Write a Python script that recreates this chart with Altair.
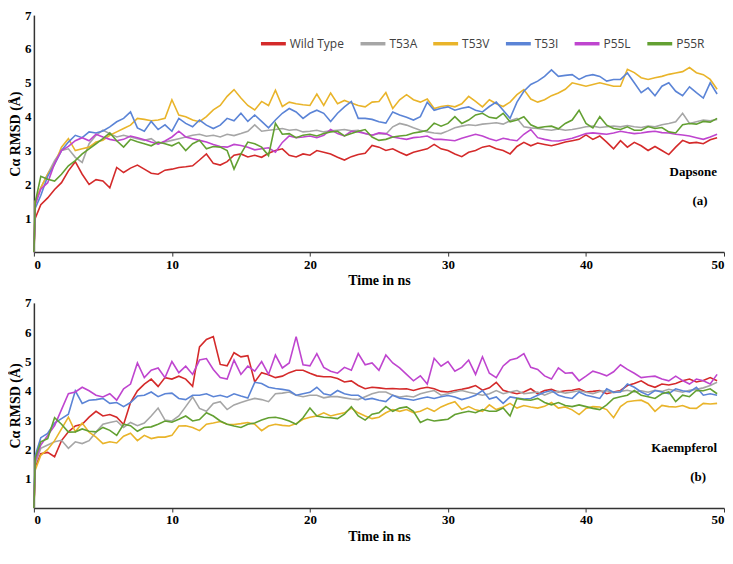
import altair as alt
import pandas as pd

# time grid (ns): 0, 0.1, then every 0.5 ns up to 49.5
time_ns = [0.0, 0.1] + [round(0.5 * i, 1) for i in range(1, 100)]

series_names = ["Wild Type", "T53A", "T53V", "T53I", "P55L", "P55R"]
series_colors = ["#d42a2a", "#a6a6a6", "#e9b42a", "#5b84d6", "#bf45cf", "#63a032"]

# ---------------- (a) Dapsone ----------------
dap_wt = [0, 1.0, 1.4, 1.6, 1.85, 2.05, 2.4, 2.67, 2.3, 2.0, 2.14,
          2.1, 1.9, 2.5, 2.35, 2.48, 2.57, 2.45, 2.33, 2.3, 2.42,
          2.45, 2.5, 2.52, 2.55, 2.72, 2.9, 2.62, 2.57, 2.67, 2.86,
          2.9, 2.81, 2.86, 2.8, 2.92, 3.0, 3.05, 2.86, 2.81, 2.9,
          2.86, 3.0, 2.95, 2.9, 2.8, 2.72, 2.82, 2.88, 2.92, 3.15,
          3.1, 3.0, 3.05, 2.95, 2.86, 2.95, 3.0, 3.05, 3.18, 3.05,
          3.0, 2.9, 2.82, 2.95, 3.0, 3.1, 3.14, 3.05, 3.0, 2.9,
          3.12, 3.24, 3.14, 3.22, 3.18, 3.14, 3.19, 3.25, 3.29, 3.33,
          3.46, 3.33, 3.43, 3.25, 3.05, 3.29, 3.1, 3.24, 3.14, 3.0,
          3.12, 3.0, 2.88, 3.1, 3.3, 3.22, 3.24, 3.2, 3.32, 3.38]
dap_t53a = [0, 1.5, 1.9, 2.3, 2.7, 3.0, 3.05, 2.8, 2.65, 3.2, 3.45,
            3.6, 3.5, 3.4, 3.45, 3.4, 3.35, 3.3, 3.35, 3.2, 3.25,
            3.3, 3.35, 3.4, 3.45, 3.48, 3.42, 3.45, 3.4, 3.48, 3.44,
            3.5, 3.57, 3.76, 3.57, 3.6, 3.62, 3.65, 3.6, 3.62, 3.55,
            3.57, 3.6, 3.55, 3.58, 3.6, 3.62, 3.58, 3.6, 3.5, 3.45,
            3.5, 3.48, 3.7, 3.8, 3.75, 3.67, 3.6, 3.55, 3.52, 3.5,
            3.58, 3.67, 3.72, 3.76, 3.74, 3.78, 3.8, 3.82, 3.78, 3.88,
            3.95, 3.7, 3.67, 3.65, 3.62, 3.6, 3.64, 3.6, 3.62, 3.66,
            3.7, 3.72, 3.68, 3.7, 3.72, 3.7, 3.74, 3.7, 3.68, 3.72,
            3.7, 3.76, 3.8, 3.85, 4.1, 3.8, 3.85, 3.9, 3.88, 3.92]
dap_t53v = [0, 1.5, 1.9, 2.3, 2.6, 3.1, 3.35, 3.0, 3.05, 3.1, 3.25,
            3.3, 3.45, 3.55, 3.65, 3.75, 3.95, 3.92, 3.88, 3.9, 3.95,
            4.5, 4.05, 4.0, 3.9, 3.85, 4.0, 4.2, 4.33, 4.6, 4.8,
            4.55, 4.33, 4.2, 4.45, 4.33, 4.78, 4.3, 4.43, 4.38, 4.35,
            4.33, 4.67, 4.33, 4.7, 4.38, 4.48, 4.4, 4.33, 4.29, 4.43,
            4.45, 4.71, 4.24, 4.5, 4.65, 4.5, 4.43, 4.52, 4.24, 4.3,
            4.33, 4.29, 4.38, 4.6, 4.45, 4.29, 4.5, 4.38, 4.3, 4.43,
            4.65, 4.8, 4.52, 4.43, 4.5, 4.62, 4.7, 4.81, 5.0, 4.95,
            4.9, 4.95, 5.0, 4.95, 4.9, 4.9, 5.4, 5.3, 5.15, 5.1,
            5.15, 5.19, 5.25, 5.29, 5.33, 5.45, 5.3, 5.24, 5.1, 4.81]
dap_t53i = [0, 1.3, 1.67, 2.24, 2.6, 3.0, 3.25, 3.45, 3.38, 3.55, 3.52,
            3.58, 3.7, 3.85, 3.95, 4.14, 3.67, 3.57, 3.86, 3.62, 3.76,
            3.57, 3.95, 3.8, 3.7, 3.9, 3.75, 3.65, 3.75, 3.95, 3.88,
            4.1, 3.86, 4.05, 3.86, 3.67, 3.9, 4.1, 4.24, 4.14, 3.95,
            4.1, 4.19, 4.1, 3.86, 4.1, 4.29, 4.45, 3.95, 3.95, 3.92,
            3.85, 3.81, 4.14, 4.05, 3.98, 3.9, 4.0, 4.43, 4.19, 4.25,
            4.29, 4.19, 4.25, 4.29, 4.19, 4.14, 4.3, 4.43, 4.19, 3.95,
            4.43, 4.75, 4.95, 5.05, 5.19, 5.38, 5.19, 5.22, 5.24, 5.1,
            5.2, 5.24, 5.19, 5.05, 5.1, 5.1, 5.29, 5.0, 4.71, 4.85,
            4.62, 4.9, 5.0, 4.75, 4.62, 4.88, 4.71, 4.55, 5.0, 4.67]
dap_p55l = [0, 1.4, 1.86, 2.05, 2.62, 3.0, 3.12, 3.29, 3.38, 3.29, 3.48,
            3.4, 3.33, 3.29, 3.33, 3.43, 3.38, 3.32, 3.25, 3.19, 3.28,
            3.4, 3.57, 3.4, 3.35, 3.3, 3.25, 3.18, 3.12, 3.1, 3.18,
            3.15, 3.1, 3.02, 3.05, 3.08, 2.95, 3.24, 3.43, 3.38, 3.4,
            3.43, 3.38, 3.45, 3.62, 3.5, 3.43, 3.57, 3.55, 3.5, 3.45,
            3.52, 3.5, 3.4, 3.36, 3.33, 3.38, 3.4, 3.43, 3.33, 3.33,
            3.31, 3.29, 3.36, 3.42, 3.48, 3.43, 3.35, 3.29, 3.36, 3.32,
            3.29, 3.48, 3.62, 3.38, 3.33, 3.29, 3.28, 3.32, 3.36, 3.43,
            3.5, 3.52, 3.5, 3.48, 3.52, 3.57, 3.53, 3.5, 3.52, 3.55,
            3.57, 3.53, 3.52, 3.48, 3.46, 3.43, 3.38, 3.33, 3.4, 3.48]
dap_p55r = [0, 1.48, 2.24, 2.15, 2.1, 2.3, 2.55, 2.7, 2.9, 3.05, 3.2,
            3.35, 3.52, 3.29, 3.1, 3.33, 3.26, 3.2, 3.14, 3.25, 3.2,
            3.14, 3.24, 3.0, 3.2, 3.3, 3.05, 3.12, 3.1, 3.0, 2.45,
            2.9, 3.25, 3.2, 3.1, 2.85, 3.8, 3.48, 3.5, 3.38, 3.45,
            3.48, 3.43, 3.5, 3.55, 3.57, 3.43, 3.5, 3.57, 3.62, 3.4,
            3.3, 3.33, 3.4, 3.43, 3.45, 3.52, 3.55, 3.6, 3.81, 3.72,
            3.8, 4.0, 3.8, 3.9, 4.05, 4.1, 3.98, 3.95, 4.1, 3.85,
            3.9, 4.0, 3.76, 3.67, 3.7, 3.72, 3.64, 3.8, 3.9, 4.19,
            3.8, 3.67, 4.0, 3.75, 3.65, 3.62, 3.7, 3.6, 3.6, 3.71,
            3.65, 3.68, 3.55, 3.52, 3.76, 3.8, 3.78, 3.86, 3.84, 3.95]

# ---------------- (b) Kaempferol ----------------
kae_wt = [0, 1.4, 1.85, 1.9, 1.75, 2.3, 2.6, 2.8, 2.86, 3.1, 3.3,
          3.14, 3.19, 3.1, 2.85, 3.6, 4.0, 4.23, 4.4, 4.15, 4.45,
          4.4, 4.5, 4.4, 4.15, 5.5, 5.75, 5.85, 4.9, 4.85, 5.3,
          5.16, 5.2, 4.3, 4.62, 4.55, 4.45, 4.5, 4.62, 4.7, 4.7,
          4.6, 4.51, 4.48, 4.48, 4.42, 4.3, 4.34, 4.18, 4.07, 4.12,
          4.1, 4.07, 4.08, 4.06, 4.07, 4.01, 4.08, 4.12, 4.07, 3.98,
          3.96, 4.01, 4.05, 4.1, 4.18, 4.02, 4.1, 4.29, 4.02, 3.95,
          3.9, 3.96, 4.07, 3.9, 4.01, 4.05, 3.96, 4.0, 4.02, 4.07,
          3.96, 3.98, 4.01, 3.9, 3.96, 4.01, 4.18, 4.25, 4.34, 4.2,
          4.12, 4.23, 4.2, 4.25, 4.34, 4.4, 4.3, 4.35, 4.45, 4.34]
kae_t53a = [0, 1.5, 2.04, 2.15, 2.26, 2.31, 2.04, 2.26, 2.2, 2.3, 2.59,
            2.86, 2.92, 2.97, 2.75, 2.92, 2.81, 2.9, 3.14, 3.41, 3.0,
            2.97, 3.14, 3.46, 3.79, 3.4, 3.3, 3.57, 3.63, 3.36, 3.52,
            3.6, 3.68, 3.74, 3.7, 3.63, 3.9, 3.92, 3.96, 3.85, 3.8,
            3.85, 3.85, 3.76, 3.8, 3.8, 3.76, 3.72, 3.7, 3.8, 3.9,
            3.96, 3.96, 3.85, 3.79, 3.82, 3.79, 3.9, 3.96, 4.01, 3.85,
            3.9, 3.96, 4.01, 3.95, 3.9, 3.85, 3.9, 4.01, 3.9, 3.96,
            4.01, 3.9, 3.93, 3.96, 3.85, 3.95, 3.98, 3.92, 3.96, 4.0,
            3.95, 3.9, 3.98, 4.0, 3.94, 3.98, 4.02, 3.96, 4.0, 3.95,
            4.02, 3.98, 4.05, 4.0, 3.95, 4.02, 4.05, 4.1, 4.18, 4.29]
kae_t53v = [0, 1.3, 1.8, 2.0, 2.3, 2.7, 3.1, 2.6, 2.9, 2.59, 2.42,
            2.2, 2.26, 2.22, 2.45, 2.55, 2.3, 2.48, 2.37, 2.42, 2.42,
            2.48, 2.8, 2.81, 2.75, 2.64, 2.86, 2.9, 2.95, 2.86, 2.85,
            2.88, 2.92, 2.86, 2.64, 2.8, 2.86, 2.82, 2.8, 2.88, 3.03,
            3.1, 3.14, 3.25, 3.14, 3.2, 3.25, 3.41, 3.25, 3.14, 3.05,
            3.1, 3.25, 3.36, 3.3, 3.36, 3.25, 3.3, 3.41, 3.3, 3.45,
            3.55, 3.63, 3.36, 3.46, 3.35, 3.3, 3.52, 3.36, 3.45, 3.57,
            3.41, 3.5, 3.45, 3.41, 3.47, 3.6, 3.41, 3.45, 3.35, 3.19,
            3.4, 3.46, 3.45, 3.36, 3.08, 3.46, 3.63, 3.66, 3.68, 3.57,
            3.3, 3.5, 3.46, 3.45, 3.5, 3.41, 3.4, 3.57, 3.55, 3.57]
kae_t53i = [0, 1.8, 2.4, 2.55, 2.9, 3.05, 3.2, 4.0, 3.57, 3.68, 3.7,
            3.74, 3.57, 3.6, 3.46, 3.6, 3.82, 3.85, 3.96, 3.8, 3.9,
            3.92, 3.74, 3.7, 3.85, 3.85, 3.9, 3.8, 3.85, 3.78, 3.9,
            3.82, 3.75, 4.29, 4.25, 4.12, 4.08, 4.05, 4.01, 3.85, 3.9,
            3.95, 4.12, 3.9, 3.85, 4.01, 3.9, 3.85, 3.85, 3.7, 3.74,
            3.68, 3.63, 3.85, 3.75, 3.72, 3.68, 3.74, 3.79, 3.74, 3.8,
            3.84, 3.79, 3.7, 3.76, 3.85, 4.01, 3.72, 3.79, 3.57, 3.79,
            3.75, 3.72, 3.74, 3.85, 3.95, 4.01, 3.85, 3.78, 3.74, 3.96,
            3.85, 3.8, 3.74, 4.07, 3.95, 3.96, 4.23, 4.12, 3.96, 3.85,
            4.01, 3.96, 3.9, 4.07, 4.0, 3.96, 4.12, 3.85, 3.9, 3.85]
kae_p55l = [0, 1.6, 2.15, 2.48, 2.81, 3.36, 3.9, 3.96, 4.12, 4.0, 3.85,
            3.79, 3.9, 3.68, 4.07, 4.23, 4.95, 4.45, 4.7, 4.78, 4.45,
            5.0, 4.62, 4.84, 4.56, 5.05, 5.1, 4.73, 4.45, 4.4, 5.05,
            4.56, 4.84, 4.67, 5.0, 4.56, 5.22, 4.78, 4.95, 5.85, 4.89,
            4.85, 5.27, 4.8, 4.67, 4.6, 4.8, 4.7, 5.27, 4.89, 4.95,
            4.7, 5.22, 4.95, 4.78, 4.56, 4.34, 4.51, 4.23, 5.11, 4.84,
            5.0, 4.67, 4.8, 5.05, 4.56, 5.16, 4.6, 4.45, 4.85, 5.05,
            5.11, 5.27, 4.8, 4.73, 4.51, 4.4, 4.78, 4.6, 4.62, 4.34,
            4.5, 4.67, 4.6, 4.51, 4.65, 4.89, 4.73, 4.6, 4.45, 4.48,
            4.5, 4.4, 4.34, 4.5, 4.35, 4.23, 4.4, 4.34, 4.23, 4.56]
kae_p55r = [0, 1.7, 2.26, 2.37, 3.08, 2.86, 2.59, 2.6, 2.7, 2.62, 2.6,
            2.75, 2.65, 2.48, 2.86, 2.81, 2.62, 2.75, 2.77, 2.86, 2.97,
            2.93, 3.03, 3.14, 2.97, 3.02, 3.25, 3.14, 2.97, 2.86, 2.8,
            2.75, 2.86, 2.9, 3.0, 3.08, 3.1, 3.05, 2.97, 2.86, 3.08,
            3.41, 3.14, 3.1, 3.08, 3.05, 3.2, 3.46, 3.14, 3.0, 3.2,
            3.25, 3.46, 3.3, 3.41, 3.45, 3.3, 2.92, 3.03, 2.97, 3.0,
            3.03, 3.19, 3.25, 3.3, 3.25, 3.36, 3.3, 3.3, 3.41, 3.14,
            3.74, 3.7, 3.68, 3.74, 3.6, 3.52, 3.6, 3.5, 3.46, 3.52,
            3.46, 3.4, 3.36, 3.52, 3.74, 3.8, 3.85, 4.01, 3.85, 3.8,
            3.74, 3.9, 3.96, 3.63, 3.85, 3.8, 4.01, 4.0, 4.07, 3.9]

x_ticks = [0, 10, 20, 30, 40, 50]
y_ticks = [1, 2, 3, 4, 5, 6, 7]
dap_labels = ["Dapsone", "(a)"]
kae_labels = ["Kaempferol", "(b)"]

SERIF = "Liberation Serif"
PLOT_W = 693


def make_df(value_lists):
    rows = []
    for name, vals in zip(series_names, value_lists):
        for t, v in zip(time_ns, vals):
            rows.append({"t": t, "v": v, "series": name})
    return pd.DataFrame(rows)


def panel(value_lists, height, legend, labels, label_pos):
    df = make_df(value_lists)
    x = alt.X("t:Q", scale=alt.Scale(domain=[0, 50], nice=False),
              axis=alt.Axis(values=x_ticks, title="Time in ns", grid=False,
                            tickSize=4, labelPadding=2, titlePadding=3,
                            labelFlush=True, format="d"))
    y = alt.Y("v:Q", scale=alt.Scale(domain=[0, 7], nice=False),
              axis=alt.Axis(values=y_ticks, title="Cα RMSD (Å)", grid=False,
                            ticks=False, labelPadding=3, titlePadding=2,
                            format="d"))
    color = alt.Color("series:N",
                      scale=alt.Scale(domain=series_names, range=series_colors),
                      legend=legend)
    layers = []
    for name in series_names:
        layers.append(
            alt.Chart(df).transform_filter(alt.datum.series == name)
            .mark_line(strokeWidth=1.6)
            .encode(x=x, y=y, color=color)
        )
    (x1, y1), (x2, y2) = label_pos
    layers.append(
        alt.Chart(pd.DataFrame({"txt": [labels[0]]}))
        .mark_text(align="right", baseline="middle", font=SERIF,
                   fontWeight="bold", fontSize=13, color="black")
        .encode(x=alt.value(x1), y=alt.value(y1), text="txt:N")
    )
    layers.append(
        alt.Chart(pd.DataFrame({"txt": [labels[1]]}))
        .mark_text(align="center", baseline="middle", font=SERIF,
                   fontWeight="bold", fontSize=13, color="black")
        .encode(x=alt.value(x2), y=alt.value(y2), text="txt:N")
    )
    return alt.layer(*layers).properties(width=PLOT_W, height=height)


top_legend = alt.Legend(
    orient="none", legendX=226, legendY=14, direction="horizontal",
    columns=6, title=None, symbolType="stroke", symbolSize=625,
    symbolStrokeWidth=3.5, labelFont="Open Sans", labelFontSize=12,
    labelColor="#404040", labelOffset=2, columnPadding=9, padding=0,
    rowPadding=0,
)

top = panel([dap_wt, dap_t53a, dap_t53v, dap_t53i, dap_p55l, dap_p55r],
            238, top_legend, dap_labels, [(686, 158), (669, 187)])
bottom = panel([kae_wt, kae_t53a, kae_t53v, kae_t53i, kae_p55l, kae_p55r],
               206, None, kae_labels, [(686, 146), (667, 175)])

chart = (
    alt.vconcat(top, bottom, spacing=9)
    .resolve_scale(color="independent")
    .resolve_legend(color="independent")
    .properties(padding=0)
    .configure_view(stroke=None)
    .configure_axis(
        labelFont=SERIF, labelFontWeight="bold", labelFontSize=13,
        labelColor="black", titleFont=SERIF, titleFontWeight="bold",
        titleFontSize=14, titleColor="black", domainColor="#333333",
        domainWidth=1.5, tickColor="#333333",
    )
)

chart.save("out.html", embed_options={"renderer": "svg", "actions": False})
